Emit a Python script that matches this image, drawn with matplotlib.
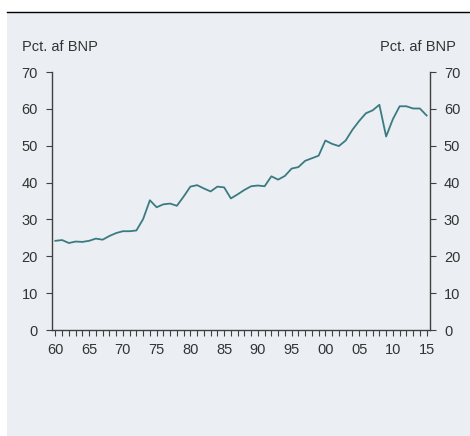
import matplotlib
matplotlib.use("Agg")
import matplotlib.pyplot as plt
from matplotlib.ticker import FixedLocator

plt.rcParams['font.family'] = ['Liberation Sans', 'DejaVu Sans']

years = list(range(1960, 2016))
values = [24.2, 24.4, 23.6, 24.0, 23.9, 24.2, 24.8, 24.5, 25.5, 26.3,
          26.8, 26.8, 27.0, 30.1, 35.2, 33.3, 34.1, 34.3, 33.7, 36.2,
          38.9, 39.3, 38.4, 37.6, 38.9, 38.7, 35.7, 36.8, 38.0, 39.0,
          39.2, 39.0, 41.7, 40.8, 41.8, 43.8, 44.2, 45.9, 46.6, 47.3,
          51.4, 50.5, 49.9, 51.4, 54.3, 56.7, 58.8, 59.6, 61.1, 52.5,
          57.2, 60.7, 60.7, 60.1, 60.1, 58.2]
xtick_years = list(range(1960, 2016, 5))
xtick_labels = ["60", "65", "70", "75", "80", "85", "90", "95", "00", "05", "10", "15"]
yticks = [0, 10, 20, 30, 40, 50, 60, 70]
unit_label = "Pct. af BNP"

W, H = 470, 436
fig = plt.figure(figsize=(W / 100, H / 100), dpi=100)
fig.patch.set_facecolor('white')
bg = '#EBEFF3'
fs = 10.5
tc = '#333333'

# background panel
bax = fig.add_axes([7 / W, 0, 1 - 7 / W, 1 - 12 / H], zorder=-10)
bax.set_facecolor(bg)
bax.set_xticks([]); bax.set_yticks([])
for s in bax.spines.values():
    s.set_visible(False)
bax.spines['top'].set_visible(True)
bax.spines['top'].set_color('black')
bax.spines['top'].set_linewidth(1.0)

left, right = 52 / W, 430 / W
top, bottom = 1 - 72 / H, 1 - 330 / H
ax = fig.add_axes([left, bottom, right - left, top - bottom], zorder=1)
ax.set_facecolor('none')
ax.plot(years, values, color='#3A7B82', lw=1.3)
ax.set_xlim(1959.5, 2015.5)
ax.set_ylim(0, 70)

ax.spines['top'].set_visible(False)
for s in ['left', 'right', 'bottom']:
    ax.spines[s].set_color('#404040')
    ax.spines[s].set_linewidth(1.0)

ax.xaxis.set_major_locator(FixedLocator(xtick_years))
ax.set_xticklabels(xtick_labels)
ax.xaxis.set_minor_locator(FixedLocator(years))
ax.tick_params(axis='x', which='both', direction='out', length=4, width=0.8,
               color='#404040', labelsize=fs, labelcolor=tc, pad=5)

ax.set_yticks(yticks)
ax.tick_params(axis='y', which='major', direction='out', length=4, width=0.8,
               color='#404040', labelsize=fs, labelcolor=tc,
               left=True, right=True, labelleft=True, labelright=True, pad=6)

fig.text(22 / W, 1 - 47 / H, unit_label, ha='left', va='center', fontsize=fs, color=tc)
fig.text(456 / W, 1 - 47 / H, unit_label, ha='right', va='center', fontsize=fs, color=tc)

fig.savefig('out.png', dpi=100, facecolor=fig.get_facecolor())
